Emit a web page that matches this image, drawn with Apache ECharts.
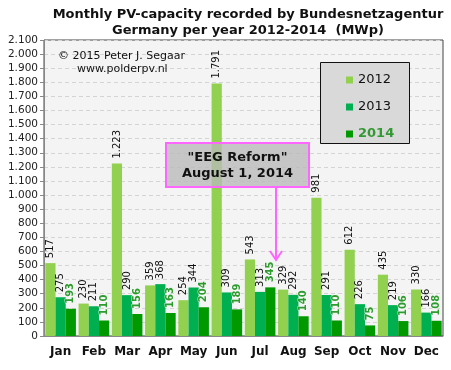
<!DOCTYPE html>
<html><head><meta charset="utf-8">
<script src="https://cdn.jsdelivr.net/npm/echarts@6/dist/echarts.min.js"></script>
<style>html,body{margin:0;padding:0;background:#fff}#c{width:451px;height:370px}</style>
</head><body><div id="c"></div>
<script>
const months = ['Jan','Feb','Mar','Apr','May','Jun','Jul','Aug','Sep','Oct','Nov','Dec'];
const y2012 = [517, 230, 1223, 359, 254, 1791, 543, 329, 981, 612, 435, 330];
const y2013 = [275, 211, 290, 368, 344, 309, 313, 292, 291, 226, 219, 166];
const y2014 = [193, 110, 156, 163, 204, 189, 345, 140, 110, 75, 106, 108];
const yTicks = {min: 0, max: 2100, interval: 100};

function fmt(v){ v = Math.round(v); const s = String(v); return s.length > 3 ? s.slice(0, s.length-3) + '.' + s.slice(-3) : s; }
const FONT = 'DejaVu Sans';
const chart = echarts.init(document.getElementById('c'), null, {renderer:'canvas'});
const lblBase = {show:true, position:'top', rotate:90, align:'left', verticalAlign:'middle', distance:5,
  fontFamily:FONT, fontSize:10, color:'#111', formatter: p => fmt(p.value)};
chart.setOption({
  backgroundColor:'#fff',
  animation:false,
  textStyle:{fontFamily:FONT},
  title:{text:'Monthly PV-capacity recorded by Bundesnetzagentur\nGermany per year 2012-2014  (MWp)', left:243, textAlign:'center', top:2,
    textStyle:{fontFamily:FONT, fontSize:13, fontWeight:'bold', color:'#111', lineHeight:16}},
  grid:{left:44, right:8, top:40, bottom:34, show:true, backgroundColor:'#f4f4f4', borderColor:'#444', borderWidth:1},
  legend:{orient:'vertical', left:341, top:67, itemWidth:7, itemHeight:7, itemGap:11, icon:'rect', z:10,
    textStyle:{fontFamily:FONT, fontSize:13, color:'#111', lineHeight:16},
    data:[{name:'2012'},{name:'2013'},{name:'2014', textStyle:{fontWeight:'bold', color:'#339933'}}]},
  xAxis:{type:'category', data:months,
    axisLine:{lineStyle:{color:'#888'}}, axisTick:{length:4, lineStyle:{color:'#888'}},
    axisLabel:{interval:0, fontFamily:FONT, fontSize:12, fontWeight:'bold', color:'#111', margin:10}},
  yAxis:{type:'value', min:yTicks.min, max:yTicks.max, interval:yTicks.interval,
    axisLine:{show:true, lineStyle:{color:'#888'}}, axisTick:{show:true, length:4, lineStyle:{color:'#888'}},
    axisLabel:{fontFamily:FONT, fontSize:10.5, color:'#222', margin:6, formatter: v => fmt(v)},
    splitLine:{lineStyle:{color:'#d4d4d4', type:[4,3]}}},
  series:[
    {name:'2012', type:'bar', data:y2012, barGap:'0%', barCategoryGap:'8%', itemStyle:{color:'#92d050'}, label:lblBase},
    {name:'2013', type:'bar', data:y2013, itemStyle:{color:'#00b050'}, label:lblBase},
    {name:'2014', type:'bar', data:y2014, itemStyle:{color:'#009900'},
      label:Object.assign({}, lblBase, {color:'#2e9b2e', fontWeight:'bold', textBorderColor:'rgba(255,255,255,0.7)', textBorderWidth:1})}
  ],
  graphic:[
    {type:'rect', shape:{x:320.5, y:62.5, width:89, height:81}, style:{fill:'#d9d9d9', stroke:'#111', lineWidth:1}, z:5},
    {type:'text', x:58, y:56, style:{text:'© 2015 Peter J. Segaar', font:'11px DejaVu Sans', fill:'#111', textVerticalAlign:'middle'}, z:6},
    {type:'text', x:77, y:69, style:{text:'www.polderpv.nl', font:'11px DejaVu Sans', fill:'#111', textVerticalAlign:'middle'}, z:6},
    {type:'rect', shape:{x:166, y:143, width:143, height:44}, style:{fill:'rgba(185,185,185,0.78)', stroke:'#ff66ff', lineWidth:2}, z:20},
    {type:'text', x:237.5, y:158, style:{text:'"EEG Reform"', font:'bold 13px DejaVu Sans', fill:'#111', textAlign:'center', textVerticalAlign:'middle'}, z:21},
    {type:'text', x:237.5, y:174, style:{text:'August 1, 2014', font:'bold 13px DejaVu Sans', fill:'#111', textAlign:'center', textVerticalAlign:'middle'}, z:21},
    {type:'line', shape:{x1:276, y1:188, x2:276, y2:260}, style:{stroke:'#ff66ff', lineWidth:2}, z:20},
    {type:'polyline', shape:{points:[[270,251],[276,260],[282,251]]}, style:{stroke:'#ff66ff', lineWidth:2, fill:null}, z:20}
  ]
});
</script></body></html>
